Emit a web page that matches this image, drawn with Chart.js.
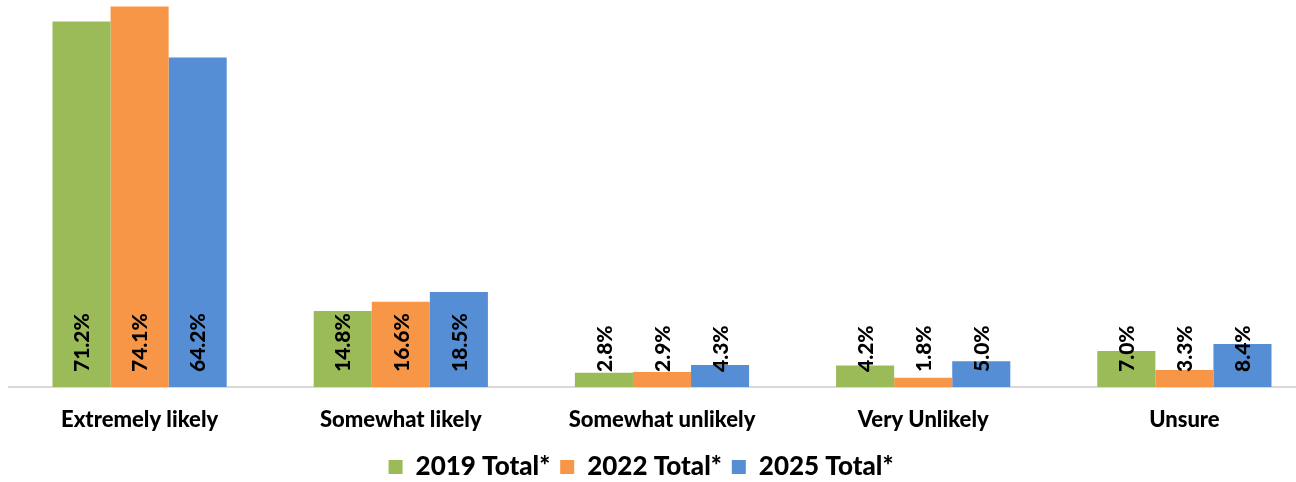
<!DOCTYPE html>
<html>
<head>
<meta charset="utf-8">
<script src="https://cdn.jsdelivr.net/npm/chart.js@4.4.1/dist/chart.umd.min.js"></script>
<style>
  html, body { margin: 0; padding: 0; background: #fff; overflow: hidden; }
  #wrap { position: relative; width: 1315px; height: 482px; }
</style>
</head>
<body>
<div id="wrap"><canvas id="chart"></canvas></div>
<script>
var categories = ['Extremely likely', 'Somewhat likely', 'Somewhat unlikely', 'Very Unlikely', 'Unsure'];
var seriesNames = ['2019 Total*', '2022 Total*', '2025 Total*'];
var total2019 = [71.2, 14.8, 2.8, 4.2, 7.0];
var total2022 = [74.1, 16.6, 2.9, 1.8, 3.3];
var total2025 = [64.2, 18.5, 4.3, 5.0, 8.4];
var seriesColors = ['#9BBB59', '#F79646', '#558ED5'];

var fontFamily = 'Lato, "Open Sans", sans-serif';

// labels sit at a fixed height above the axis, rotated like in excel
var barLabels = {
  id: 'barLabels',
  afterDatasetsDraw: function(chart) {
    var ctx = chart.ctx;
    var base = chart.chartArea.bottom;
    ctx.save();
    ctx.font = '900 21px ' + fontFamily;
    ctx.fillStyle = '#000';
    ctx.textAlign = 'left';
    ctx.textBaseline = 'middle';
    chart.data.datasets.forEach(function(ds, i) {
      var meta = chart.getDatasetMeta(i);
      meta.data.forEach(function(bar, j) {
        ctx.save();
        ctx.translate(bar.x + 1, base - 15);
        ctx.rotate(-Math.PI / 2);
        ctx.fillText(ds.data[j].toFixed(1) + '%', 0, 0);
        ctx.restore();
      });
    });
    ctx.restore();
  }
};

// legend is centred a bit left of the plot centre in the original
var legendShift = {
  id: 'legendShift',
  afterLayout: function(chart) {
    chart.legend.left -= 21;
    chart.legend.right -= 21;
  }
};

var datasets = [total2019, total2022, total2025].map(function(vals, i) {
  return {
    label: seriesNames[i],
    data: vals,
    backgroundColor: seriesColors[i],
    borderWidth: 0,
    categoryPercentage: 0.667,
    barPercentage: 1.0
  };
});

new Chart(document.getElementById('chart'), {
  type: 'bar',
  data: { labels: categories, datasets: datasets },
  options: {
    responsive: true,
    maintainAspectRatio: false,
    animation: false,
    layout: { padding: { left: 9, right: 0, top: 2, bottom: -8 } },
    plugins: {
      legend: {
        position: 'bottom',
        labels: {
          boxWidth: 14,
          boxHeight: 14,
          padding: 10,
          color: '#000',
          font: { family: fontFamily, size: 26, weight: '900' }
        }
      },
      tooltip: { enabled: false }
    },
    scales: {
      x: {
        grid: { display: false, drawTicks: false },
        border: { color: '#d9d9d9', width: 2 },
        ticks: {
          color: '#000',
          padding: 20,
          font: { family: fontFamily, size: 22, weight: '900' }
        },
        afterFit: function(scale) { scale.height = 57; }
      },
      y: { display: false, min: 0, max: 75 }
    }
  },
  plugins: [barLabels, legendShift]
});
</script>
</body>
</html>
